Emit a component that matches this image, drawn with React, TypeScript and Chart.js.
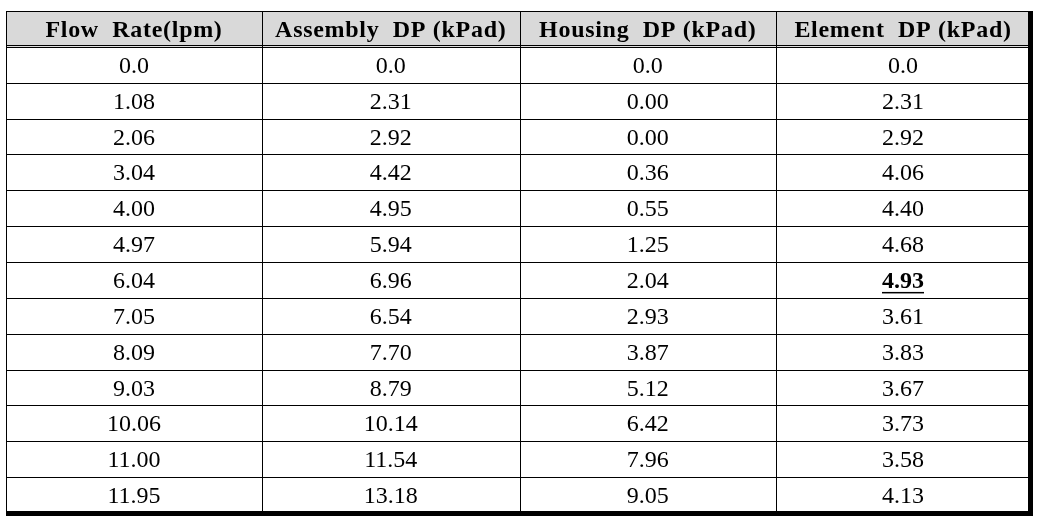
import React, { useEffect, useRef } from 'react';
import { Chart, registerables } from 'chart.js';

Chart.register(...registerables);

// ---- Data ----
const headers = ['Flow  Rate(lpm)', 'Assembly  DP (kPad)', 'Housing  DP (kPad)', 'Element  DP (kPad)'];
const flowRate = ['0.0', '1.08', '2.06', '3.04', '4.00', '4.97', '6.04', '7.05', '8.09', '9.03', '10.06', '11.00', '11.95'];
const assemblyDP = ['0.0', '2.31', '2.92', '4.42', '4.95', '5.94', '6.96', '6.54', '7.70', '8.79', '10.14', '11.54', '13.18'];
const housingDP = ['0.0', '0.00', '0.00', '0.36', '0.55', '1.25', '2.04', '2.93', '3.87', '5.12', '6.42', '7.96', '9.05'];
const elementDP = ['0.0', '2.31', '2.92', '4.06', '4.40', '4.68', '4.93', '3.61', '3.83', '3.67', '3.73', '3.58', '4.13'];
// emphasised (bold + underlined) cell: [column, row]
const emphasised = [3, 6];

const columns = [flowRate, assemblyDP, housingDP, elementDP];

// ---- Layout (column edges in x-scale units) ----
const COL_EDGES = [0, 256, 513.5, 770, 1024];

// ---- Style ----
const FONT = '"Liberation Serif", "Times New Roman", serif';
const FONT_SIZE = 24;
const HEADER_BG = '#d9d9d9';
const INK = '#000000';

const tablePlugin = {
  id: 'tableGrid',
  beforeDatasetsDraw(chart: any) {
    const { ctx } = chart;
    const x = chart.scales.x;
    const y = chart.scales.y;
    const nCols = headers.length;
    const nRows = flowRate.length + 1;
    const xs = COL_EDGES.map((v) => x.getPixelForValue(v));
    const ys = Array.from({ length: nRows + 1 }, (_, i) => y.getPixelForValue(i));
    ctx.save();
    ctx.fillStyle = HEADER_BG;
    ctx.fillRect(xs[0], ys[0], xs[nCols] - xs[0], ys[1] - ys[0]);
    ctx.strokeStyle = INK;
    ctx.lineWidth = 1;
    const hLine = (yy: number) => {
      const p = Math.round(yy) + 0.5;
      ctx.beginPath();
      ctx.moveTo(xs[0], p);
      ctx.lineTo(xs[nCols], p);
      ctx.stroke();
    };
    const vLine = (xx: number) => {
      const p = Math.round(xx) + 0.5;
      ctx.beginPath();
      ctx.moveTo(p, ys[0]);
      ctx.lineTo(p, ys[nRows]);
      ctx.stroke();
    };
    hLine(ys[0]);
    vLine(xs[0]);
    hLine(ys[1] - 2);
    hLine(ys[1]);
    for (let r = 2; r < nRows; r++) hLine(ys[r]);
    for (let c = 1; c < nCols; c++) vLine(xs[c]);
    ctx.fillStyle = INK;
    ctx.fillRect(Math.round(xs[nCols]) - 2, ys[0], 5, ys[nRows] - ys[0] + 3);
    ctx.fillRect(xs[0], Math.round(ys[nRows]) - 2, xs[nCols] - xs[0] + 3, 5);
    ctx.restore();
  },
  afterDatasetsDraw(chart: any) {
    const { ctx } = chart;
    const y = chart.scales.y;
    ctx.save();
    ctx.fillStyle = INK;
    ctx.textAlign = 'center';
    ctx.textBaseline = 'alphabetic';
    const half = FONT_SIZE / 3;
    chart.data.datasets.forEach((ds: any, c: number) => {
      const meta = chart.getDatasetMeta(c);
      const cx = meta.data[0].x;
      ctx.font = `bold ${FONT_SIZE}px ${FONT}`;
      (ctx as any).letterSpacing = '0.7px';
      ctx.fillText(ds.label, cx, y.getPixelForValue(0.5) + half);
      (ctx as any).letterSpacing = '0px';
      meta.data.forEach((pt: any, r: number) => {
        const text = columns[c][r];
        const isEm = c === emphasised[0] && r === emphasised[1];
        ctx.font = `${isEm ? 'bold ' : ''}${FONT_SIZE}px ${FONT}`;
        const by = pt.y + half;
        ctx.fillText(text, pt.x, by);
        if (isEm) {
          const w = ctx.measureText(text).width;
          ctx.fillRect(pt.x - w / 2, by + 4, w, 1.5);
        }
      });
    });
    ctx.restore();
  },
};

export default function App() {
  const ref = useRef<HTMLCanvasElement | null>(null);
  useEffect(() => {
    if (!ref.current) return;
    const chart = new Chart(ref.current, {
      type: 'scatter',
      data: {
        datasets: columns.map((col, c) => ({
          label: headers[c],
          data: col.map((_, r) => ({ x: (COL_EDGES[c] + COL_EDGES[c + 1]) / 2, y: r + 1.5 })),
          pointRadius: 0,
          pointHoverRadius: 0,
        })),
      },
      options: {
        animation: false,
        responsive: false,
        devicePixelRatio: 1,
        events: [],
        layout: { padding: { left: 6, top: 11, right: 13, bottom: 10 } },
        scales: {
          x: { type: 'linear', min: COL_EDGES[0], max: COL_EDGES[COL_EDGES.length - 1], display: false },
          y: { type: 'linear', min: 0, max: 14, reverse: true, display: false },
        },
        plugins: { legend: { display: false }, tooltip: { enabled: false } },
      },
      plugins: [tablePlugin],
    });
    return () => chart.destroy();
  }, []);
  return (
    <div style={{ position: 'fixed', left: 0, top: 0, width: 1043, height: 523, background: '#fff' }}>
      <canvas ref={ref} width={1043} height={523} />
    </div>
  );
}
